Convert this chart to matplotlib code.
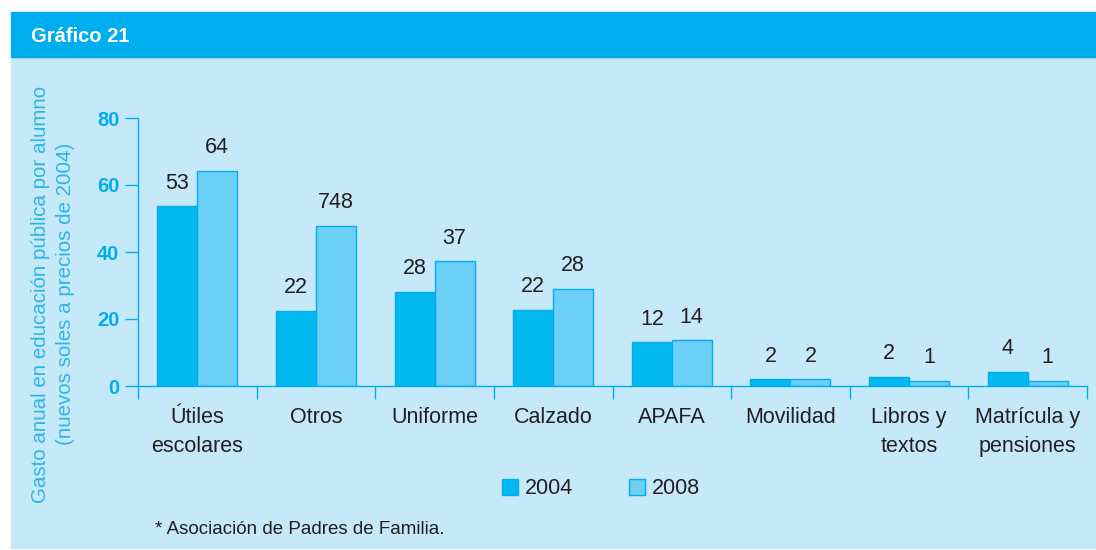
import matplotlib
matplotlib.use("Agg")
import matplotlib.pyplot as plt
import numpy as np
from matplotlib.patches import Rectangle

# datos
categorias = ["Útiles\nescolares", "Otros", "Uniforme", "Calzado", "APAFA",
              "Movilidad", "Libros y\ntextos", "Matrícula y\npensiones"]
valores_2004 = [53.7, 22.4, 28.2, 22.7, 13.1, 2.0, 2.7, 4.2]
valores_2008 = [64.2, 47.8, 37.2, 29.0, 13.7, 2.0, 1.5, 1.5]
etiquetas_2004 = ["53", "22", "28", "22", "12", "2", "2", "4"]
etiquetas_2008 = ["64", "748", "37", "28", "14", "2", "1", "1"]
series = ["2004", "2008"]
yticks = [0, 20, 40, 60, 80]

AZUL = "#00AEEF"
AZUL_2004 = "#00B9EF"
AZUL_2008 = "#6BCFF6"
FONDO = "#C6E9F9"
TEXTO = "#231F20"
SANS = ["Liberation Sans", "DejaVu Sans"]

fig = plt.figure(figsize=(10.96, 5.5), dpi=100)
W, H = 1096, 550

# fondo del panel y cabecera
fig.add_artist(Rectangle((11 / W, 2 / H), 1 - 11 / W, (548 - 57) / H,
                         transform=fig.transFigure, color=FONDO, zorder=0))
fig.add_artist(Rectangle((11 / W, 1 - 57 / H), 1 - 11 / W, 45 / H,
                         transform=fig.transFigure, color=AZUL, zorder=0))
fig.text(31 / W, 1 - 36 / H, "Gráfico 21", color="white", fontsize=14.5,
         fontweight="bold", family=SANS, va="center", ha="left")

ax = fig.add_axes([138 / W, 164 / H, (1087 - 138) / W, (386 - 118) / H])
ax.set_facecolor("none")

x = np.arange(len(categorias))
ancho = 0.337
b1 = ax.bar(x - ancho / 2, valores_2004, ancho, color=AZUL_2004,
            edgecolor=AZUL, linewidth=1, label=series[0])
b2 = ax.bar(x + ancho / 2, valores_2008, ancho, color=AZUL_2008,
            edgecolor=AZUL, linewidth=1, label=series[1])

for barras, etiquetas in [(b1, etiquetas_2004), (b2, etiquetas_2008)]:
    for barra, et in zip(barras, etiquetas):
        ax.annotate(et, (barra.get_x() + barra.get_width() / 2, barra.get_height()),
                    xytext=(0, 9), textcoords="offset points", ha="center",
                    va="bottom", fontsize=15.5, color=TEXTO, family=SANS)

ax.set_xlim(-0.5, len(categorias) - 0.5)
ax.set_ylim(0, 80)
ax.set_yticks(yticks)
ax.set_yticklabels([str(v) for v in yticks], fontsize=14.5, fontweight="bold",
                   color=AZUL, family=SANS)
ax.tick_params(axis="y", direction="out", length=9.5, width=1, color=AZUL, pad=4)

ax.set_xticks(x)
ax.set_xticklabels(categorias, fontsize=15.5, color=TEXTO, family=SANS,
                   linespacing=1.5, va="top")
ax.tick_params(axis="x", which="major", length=0, pad=15)
ax.set_xticks(np.arange(len(categorias) + 1) - 0.5, minor=True)
ax.tick_params(axis="x", which="minor", direction="out", length=9, width=1, color=AZUL)

for lado in ["top", "right"]:
    ax.spines[lado].set_visible(False)
for lado in ["left", "bottom"]:
    ax.spines[lado].set_color(AZUL)
    ax.spines[lado].set_linewidth(1)

fig.text(53 / W, 1 - 294 / H, "Gasto anual en educación pública por alumno\n(nuevos soles a precios de 2004)",
         rotation=90, ha="center", va="center", color="#2CB5E8", fontsize=14.8,
         family=SANS, linespacing=1.4, multialignment="center")

leg = fig.legend(handles=[b1, b2], labels=series, loc="center",
                 bbox_to_anchor=(601 / W, 1 - 489 / H), ncol=2, frameon=False,
                 prop={"family": SANS, "size": 15.5}, handlelength=0.75,
                 handleheight=0.75, handletextpad=0.3, columnspacing=2.6)
for t in leg.get_texts():
    t.set_color(TEXTO)

fig.text(155 / W, 1 - 530 / H, "* Asociación de Padres de Familia.", fontsize=13.5,
         color=TEXTO, family=SANS, va="center", ha="left")

fig.savefig("out.png", dpi=100)
